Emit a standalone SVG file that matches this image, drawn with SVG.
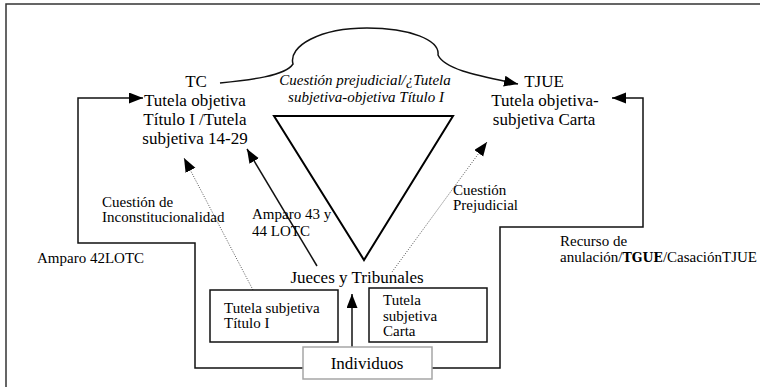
<svg xmlns="http://www.w3.org/2000/svg" width="760" height="387" viewBox="0 0 760 387">
<defs>
<marker id="ah" markerUnits="userSpaceOnUse" markerWidth="16" markerHeight="12" refX="14" refY="5.5" orient="auto">
<path d="M0,0 L14,5.5 L0,11 z" fill="#000"/>
</marker>
<style>
.t{font-family:"Liberation Serif","Times New Roman",serif;fill:#000}
.big{font-size:17px}
.sm{font-size:15px}
.it{font-style:italic;font-size:15px}
.b{font-family:"DejaVu Serif",serif;font-weight:bold;font-size:12.5px}
.ln{fill:none;stroke:#111;stroke-width:1.5}
.dot{fill:none;stroke:#555;stroke-width:1;stroke-dasharray:1,1.5}
.box{fill:#fff;stroke:#111;stroke-width:1.5}
</style>
</defs>
<rect width="760" height="387" fill="#fff"/>
<path d="M6,387 V4 H760" fill="none" stroke="#333" stroke-width="1.5"/>

<g id="triangle">
<path d="M274,116 L453,116 L364,260 Z" fill="none" stroke="#000" stroke-width="2"/>
</g>

<g id="connectors">
<path class="ln" d="M220,83 C250,80 285,76 293,64 C288,46 320,28 367,28 C410,28 440,40 438,55 C445,70 480,76 518,84" marker-end="url(#ah)"/>
<path class="ln" d="M303,368 H195 V243 H78 V98 H143" marker-end="url(#ah)"/>
<path class="ln" d="M432,368 H500 V227 H643 V98 H612" marker-end="url(#ah)"/>
<path class="ln" d="M317,266 L247,149" marker-end="url(#ah)"/>
<path class="dot" d="M253,290 L184,158" marker-end="url(#ah)"/>
<path class="dot" d="M392,272 L487,142" marker-end="url(#ah)"/>
<path class="ln" d="M352,347 V294" marker-end="url(#ah)"/>
</g>

<g id="tc">
<text class="t big" text-anchor="middle" x="196" y="87">TC</text>
<text class="t big" text-anchor="middle" x="195" y="106">Tutela objetiva</text>
<text class="t big" text-anchor="middle" x="195" y="125">Título I /Tutela</text>
<text class="t big" text-anchor="middle" x="195" y="144">subjetiva 14-29</text>
</g>

<g id="tjue">
<text class="t big" text-anchor="middle" x="544" y="87">TJUE</text>
<text class="t big" text-anchor="middle" x="545" y="106">Tutela objetiva-</text>
<text class="t big" text-anchor="middle" x="544" y="125">subjetiva Carta</text>
</g>

<g id="cuestion-prejudicial-tutela">
<text class="t it" text-anchor="middle" x="365" y="85">Cuestión prejudicial/¿Tutela</text>
<text class="t it" text-anchor="middle" x="366" y="102">subjetiva-objetiva Título I</text>
</g>

<g id="jueces">
<text class="t big" text-anchor="middle" x="357" y="283">Jueces y Tribunales</text>
</g>

<g id="box-titulo">
<rect class="box" x="210" y="290" width="128" height="52"/>
<text class="t sm" x="224" y="313">Tutela subjetiva</text>
<text class="t sm" x="224" y="328">Título I</text>
</g>

<g id="box-carta">
<rect class="box" x="369" y="288" width="118" height="54"/>
<text class="t sm" x="383" y="305">Tutela</text>
<text class="t sm" x="383" y="321">subjetiva</text>
<text class="t sm" x="383" y="336">Carta</text>
</g>

<g id="individuos">
<rect x="303" y="347" width="129" height="32" fill="#fff" stroke="#a6a6a6" stroke-width="1.5"/>
<text class="t big" text-anchor="middle" x="367" y="369">Individuos</text>
</g>

<g id="labels">
<text class="t sm" x="102" y="207">Cuestión de</text>
<text class="t sm" x="102" y="222">Inconstitucionalidad</text>
<text class="t sm" x="252" y="219">Amparo 43 y</text>
<text class="t sm" x="252" y="236">44 LOTC</text>
<text class="t sm" x="37" y="263">Amparo 42LOTC</text>
<text class="t sm" x="453" y="195">Cuestión</text>
<text class="t sm" x="453" y="210">Prejudicial</text>
<text class="t sm" x="560" y="246">Recurso de</text>
<text class="t sm" x="560" y="262">anulación/<tspan class="b">TGUE</tspan>/CasaciónTJUE</text>
</g>
</svg>
